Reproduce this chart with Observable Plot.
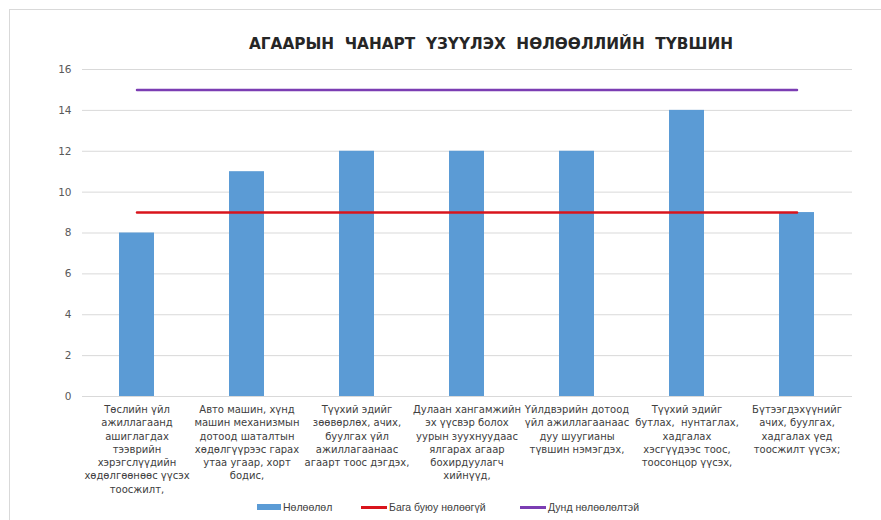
<!DOCTYPE html>
<html>
<head>
<meta charset="utf-8">
<script src="https://cdn.jsdelivr.net/npm/d3@7"></script>
<script src="https://cdn.jsdelivr.net/npm/@observablehq/plot@0.6"></script>
<style>
  html, body { margin: 0; padding: 0; background: #fff; }
  body { width: 881px; height: 520px; overflow: hidden; position: relative; font-family: "Liberation Sans", Arial, sans-serif; }
  #frame { position: absolute; left: 9px; top: 9px; width: 900px; height: 540px; border: 1px solid #d9d9d9; box-sizing: border-box; }
  #title { position: absolute; left: 0; top: 35px; width: 982px; text-align: center; font-family: "DejaVu Sans", sans-serif; font-weight: bold; font-size: 15.3px; color: #262626; white-space: pre; }
  #chart { position: absolute; left: 0; top: 0; }
  #legend { position: absolute; top: 501px; left: 0; font-size: 10.5px; color: #404040; }
  .item { position: absolute; white-space: nowrap; display: flex; align-items: center; }
  .sw { display: inline-block; width: 26px; margin-right: 2px; }
</style>
</head>
<body>
<div id="frame"></div>
<div id="title"></div>
<div id="chart"></div>
<div id="legend"></div>
<script>
const titleText = "АГААРЫН  ЧАНАРТ  ҮЗҮҮЛЭХ  НӨЛӨӨЛЛИЙН  ТҮВШИН";
const categories = [
  "Төслийн үйл\nажиллагаанд\nашиглагдах\nтээврийн\nхэрэгслүүдийн\nхөдөлгөөнөөс үүсэх\nтоосжилт,",
  "Авто машин, хүнд\nмашин механизмын\nдотоод шаталтын\nхөдөлгүүрээс гарах\nутаа угаар, хорт\nбодис,",
  "Түүхий эдийг\nзөөвөрлөх, ачих,\nбуулгах үйл\nажиллагаанаас\nагаарт тоос дэгдэх,",
  "Дулаан хангамжийн\nэх үүсвэр болох\nуурын зуухнуудаас\nялгарах агаар\nбохирдуулагч\nхийнүүд,",
  "Үйлдвэрийн дотоод\nүйл ажиллагаанаас\nдуу шуугианы\nтүвшин нэмэгдэх,",
  "Түүхий эдийг\nбутлах,  нунтаглах,\nхадгалах\nхэсгүүдээс тоос,\nтоосонцор үүсэх,",
  "Бүтээгдэхүүнийг\nачих, буулгах,\nхадгалах үед\nтоосжилт үүсэх;"
];
const impact = [8, 11, 12, 12, 12, 14, 9];       // Нөлөөлөл
const lowLevel = [9, 9, 9, 9, 9, 9, 9];          // Бага буюу нөлөөгүй
const mediumLevel = [15, 15, 15, 15, 15, 15, 15]; // Дунд нөлөөлөлтэй
const yTicks = [0, 2, 4, 6, 8, 10, 12, 14, 16];
const seriesNames = ["Нөлөөлөл", "Бага буюу нөлөөгүй", "Дунд нөлөөлөлтэй"];
const seriesColors = ["#5b9bd5", "#d9141c", "#7b3db3"];

document.getElementById("title").textContent = titleText;

const rows = categories.map((c, i) => ({cat: c, v: impact[i], low: lowLevel[i], mid: mediumLevel[i]}));

const chart = Plot.plot({
  width: 881,
  height: 500,
  marginLeft: 82,
  marginRight: 29,
  marginTop: 69,
  marginBottom: 104,
  style: {fontFamily: "'DejaVu Sans', sans-serif", background: "transparent"},
  x: {domain: categories, paddingInner: 0.68, paddingOuter: 0.34, align: 0.5, label: null},
  y: {domain: [0, 16], label: null},
  marks: [
    Plot.ruleY(yTicks, {stroke: "#d9d9d9", strokeWidth: 1}),
    Plot.barY(rows, {x: "cat", y: "v", fill: seriesColors[0]}),
    Plot.lineY(rows, {x: "cat", y: "low", stroke: seriesColors[1], strokeWidth: 2.5}),
    Plot.lineY(rows, {x: "cat", y: "mid", stroke: seriesColors[2], strokeWidth: 2.5}),
    Plot.axisY({ticks: yTicks, tickSize: 0, tickPadding: 11, fontSize: 10.5, fill: "#595959", label: null}),
    Plot.axisX({tickSize: 0, tickPadding: 7, fontSize: 10, lineHeight: 1.33, fill: "#404040", label: null})
  ]
});
document.getElementById("chart").appendChild(chart);

const legend = document.getElementById("legend");
const lefts = [257, 361, 520];
seriesNames.forEach((n, i) => {
  const it = document.createElement("div");
  it.className = "item";
  it.style.left = lefts[i] + "px";
  const sw = document.createElement("span");
  sw.className = "sw";
  sw.style.height = i === 0 ? "6px" : "3px";
  sw.style.background = seriesColors[i];
  if (i === 0) sw.style.width = "24px";
  it.appendChild(sw);
  const t = document.createElement("span");
  t.textContent = n;
  it.appendChild(t);
  legend.appendChild(it);
});
</script>
</body>
</html>
